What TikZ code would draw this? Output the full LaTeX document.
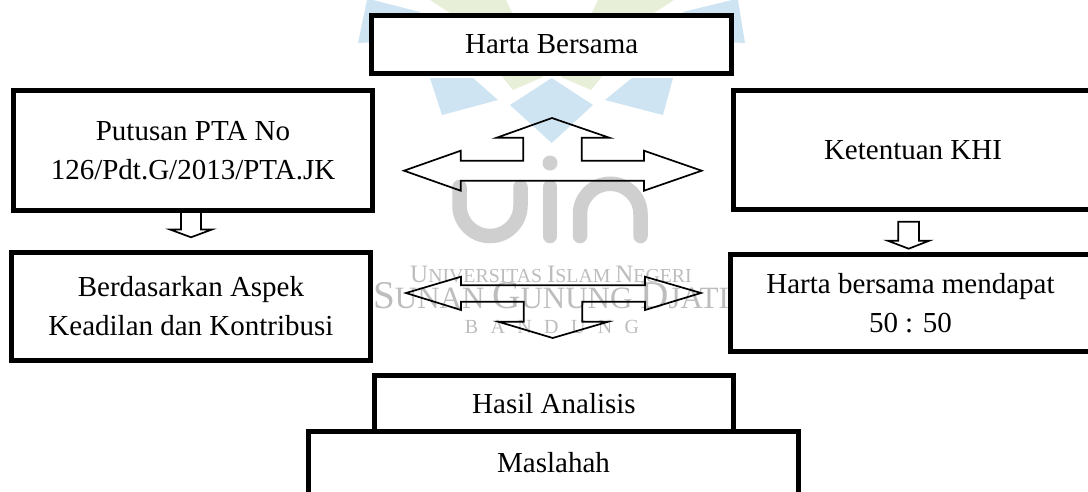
\documentclass[tikz,border=0pt]{standalone}
\usepackage{fontspec}
\setmainfont{Liberation Serif}
\definecolor{wmblue}{HTML}{CFE4F2}
\definecolor{wmgreen}{HTML}{E7EFD9}
\definecolor{wmgrey}{HTML}{CFCFCF}
\definecolor{wmtext}{HTML}{BDBDBD}
\tikzset{
  boxnode/.style={draw=black,line width=5pt,fill=white,inner sep=0pt,outer sep=0pt,align=center,
    font=\fontsize{29}{39}\selectfont},
  blockarrow/.style={draw=black,line width=1.7pt,line join=miter,miter limit=10},
  petalblue/.style={fill=wmblue,draw=none},
  petalgreen/.style={fill=wmgreen,draw=none},
  uinstroke/.style={draw=wmgrey,line width=14.5pt,line cap=round},
  wmlabel/.style={text=wmtext,inner sep=0pt,anchor=base}
}
\begin{document}
\begin{tikzpicture}[x=1pt,y=-1pt]
\useasboundingbox (0,0) rectangle (1088,491);
\clip (0,0) rectangle (1088,491);
\fill[white] (0,0) rectangle (1088,491);
% watermark: logo
\fill[petalblue] (551.7,78) -- (593,105) -- (551.7,143) -- (510,105) -- cycle;
\fill[petalblue] (430,78) -- (473,78) -- (498,100) -- (442,115) -- cycle;
\fill[petalblue] (673,78) -- (632,78) -- (605,100) -- (663,115) -- cycle;
\fill[petalblue] (358,43) -- (367,0) -- (373,0) -- (420,12) -- (420,40) -- cycle;
\fill[petalblue] (745,43) -- (738,0) -- (732,0) -- (683,12) -- (683,40) -- cycle;
\fill[petalgreen] (430,0) -- (506,0) -- (543,77) -- (513,90) -- (453,15) -- cycle;
\fill[petalgreen] (674,0) -- (598,0) -- (561,77) -- (591,90) -- (651,15) -- cycle;
% watermark: uin
\draw[uinstroke] (459.5,187) -- (459.5,205.5) arc[start angle=180,end angle=0,radius=30.5] -- (520.5,187);
\fill[wmgrey] (550,163) circle[radius=7.5];
\draw[uinstroke] (550,187) -- (550,236);
\draw[uinstroke] (580,236) -- (580,214) arc[start angle=180,end angle=360,radius=30.25] -- (640.5,236);
% watermark: text
\node[wmlabel] (wm1) at (551,282) {{\fontsize{25}{25}\selectfont U}{\fontsize{19.8}{25}\selectfont NIVERSITAS }{\fontsize{25}{25}\selectfont I}{\fontsize{19.8}{25}\selectfont SLAM }{\fontsize{25}{25}\selectfont N}{\fontsize{19.8}{25}\selectfont EGERI}};
\node[wmlabel] (wm2) at (551,308) {{\fontsize{39.3}{39}\selectfont S}{\fontsize{31}{39}\selectfont UNAN }{\fontsize{39.3}{39}\selectfont G}{\fontsize{31}{39}\selectfont UNUNG }{\fontsize{39.3}{39}\selectfont D}{\fontsize{31}{39}\selectfont JATI}};
\node[wmlabel] (wm3) at (552,333) {\fontsize{20}{22}\selectfont\addfontfeature{LetterSpace=62}BANDUNG};
% boxes
\node[boxnode,minimum width=360pt,minimum height=58pt] (harta) at (551.7,44.5) {Harta Bersama};
\node[boxnode,minimum width=359pt,minimum height=120pt] (putusan) at (193,150.5) {Putusan PTA No\\126/Pdt.G/2013/PTA.JK};
\node[boxnode,minimum width=359pt,minimum height=119pt] (khi) at (913,150) {Ketentuan KHI};
\node[boxnode,minimum width=359pt,minimum height=108pt] (aspek) at (191,306.5) {Berdasarkan Aspek\\Keadilan dan Kontribusi};
\node[boxnode,minimum width=360pt,minimum height=97pt] (lima) at (910.5,303) {Harta bersama mendapat\\50 : 50};
\node[boxnode,minimum width=490pt,minimum height=70pt,text depth=8pt] (maslahah) at (553.5,466.5) {Maslahah};
\node[boxnode,minimum width=359pt,minimum height=56pt] (hasil) at (554,403.5) {Hasil Analisis};
% triple arrow, top
\draw[blockarrow] (404,170.7) -- (460.7,150.7) -- (460.7,160.7) -- (523.3,160.7) -- (523.3,137.7) -- (496.7,137.7) -- (552,118) -- (609.3,137.7) -- (581.7,137.7) -- (581.7,160.7) -- (644,160.7) -- (644,150.7) -- (701.7,170.7) -- (644,190.7) -- (644,180.7) -- (460.7,180.7) -- (460.7,190.7) -- cycle;
% triple arrow, bottom
\draw[blockarrow] (406,293) -- (461,276.7) -- (461,285.3) -- (645,285.3) -- (645,276.7) -- (701,293) -- (645,310) -- (645,301.7) -- (582.3,301.7) -- (582.3,321.7) -- (608.3,321.7) -- (552.7,338) -- (498.3,321.7) -- (523.7,321.7) -- (523.7,301.7) -- (461,301.7) -- (461,310) -- cycle;
% down arrows
\draw[blockarrow] (putusan.south -| 181,0) -- (181,229.5) -- (170,229.5) -- (191,237.3) -- (212,229.5) -- (201,229.5) -- (putusan.south -| 201,0);
\draw[blockarrow] (898.3,221.7) -- (898.3,240.7) -- (887.7,240.7) -- (908.7,248.7) -- (929.3,240.7) -- (919,240.7) -- (919,221.7) -- cycle;
\end{tikzpicture}
\end{document}
